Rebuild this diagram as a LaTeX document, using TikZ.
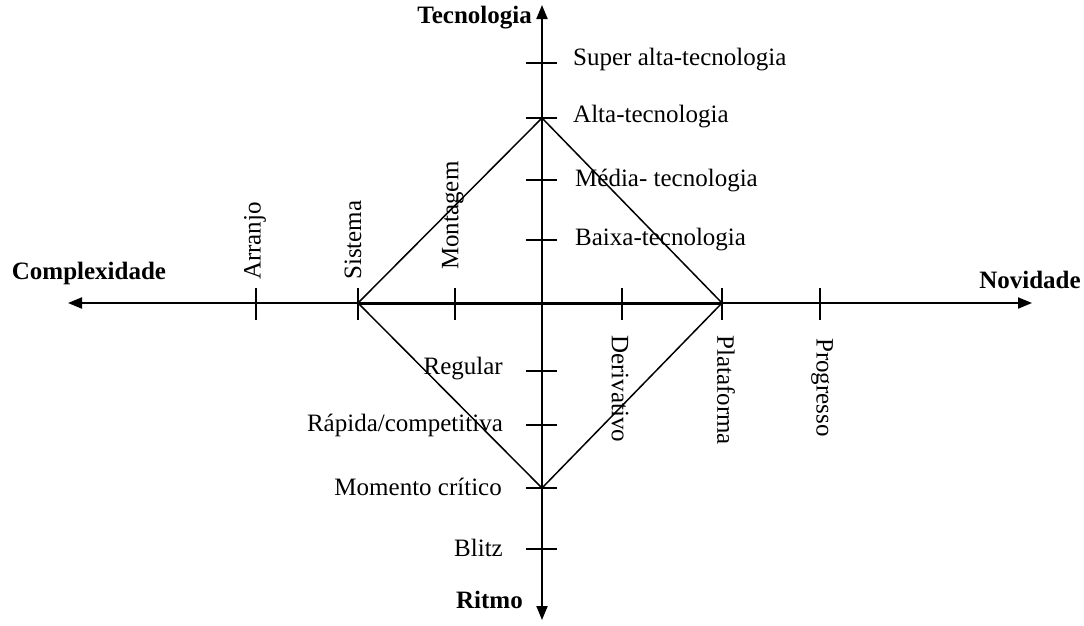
\documentclass[tikz,border=0pt]{standalone}
\usepackage{fontspec}
\setmainfont{Liberation Serif}
\usetikzlibrary{arrows.meta}
\tikzset{
  axis/.style={{Triangle[length=14pt,width=11pt]}-{Triangle[length=14pt,width=11pt]}, line width=2pt},
  tick/.style={line width=2pt},
  edge/.style={line width=1.5pt},
  axistitle/.style={font=\fontsize{25}{29}\selectfont\bfseries, inner sep=0pt},
  level/.style={font=\fontsize{25}{29}\selectfont, inner sep=0pt},
  uplabel/.style={level, rotate=90, anchor=west},
  downlabel/.style={level, rotate=-90, anchor=west}
}
\begin{document}
\begin{tikzpicture}[x=1pt,y=-1pt]
\useasboundingbox (0,0) rectangle (1084,625);
% axes
\coordinate (west) at (68,303);
\coordinate (east) at (1032,303);
\coordinate (north) at (542,5);
\coordinate (south) at (542,620);
\draw[axis] (west) -- (east);
\draw[axis] (south) -- (north);
% ticks
\foreach \x in {256,358,455,622,722,820}
  \draw[tick] (\x,288) -- (\x,320);
\foreach \y in {63,118,180,240,371,425,488,549}
  \draw[tick] (526,\y) -- (557,\y);
% axis titles
\node[axistitle, anchor=east] (tec) at (532,18) {Tecnologia};
\node[axistitle, anchor=east] (rit) at (523,600) {Ritmo};
\node[axistitle] (com) at (89,273) {Complexidade};
\node[axistitle] (nov) at (1030,280) {Novidade};
% tecnologia levels
\node[level, anchor=west] (sup) at (573,60) {Super alta-tecnologia};
\node[level, anchor=west] (alt) at (573,117) {Alta-tecnologia};
\node[level, anchor=west] (med) at (575,180) {Média- tecnologia};
\node[level, anchor=west] (bai) at (575,240) {Baixa-tecnologia};
% ritmo levels
\node[level, anchor=east] (reg) at (503,369) {Regular};
\node[level, anchor=east] (rap) at (503,425) {Rápida/competitiva};
\node[level, anchor=east] (mom) at (502,487) {Momento crítico};
\node[level, anchor=east] (bli) at (503,548) {Blitz};
% complexidade levels
\node[uplabel] (arr) at (255,280) {Arranjo};
\node[uplabel] (sis) at (353,280) {Sistema};
\node[uplabel] (mon) at (453,270) {Montagem};
% novidade levels
\node[downlabel] (der) at (620,335) {Derivativo};
\node[downlabel] (pla) at (726,335) {Plataforma};
\node[downlabel] (pro) at (822,338) {Progresso};
% profile
\coordinate (psis) at (358,303);
\coordinate (palt) at (542,118);
\coordinate (ppla) at (722,303);
\coordinate (pmom) at (542,488);
\draw[edge] (psis) -- (palt) -- (ppla) -- (pmom) -- cycle;
\draw[line width=3pt] (psis) -- (ppla);
\end{tikzpicture}
\end{document}
